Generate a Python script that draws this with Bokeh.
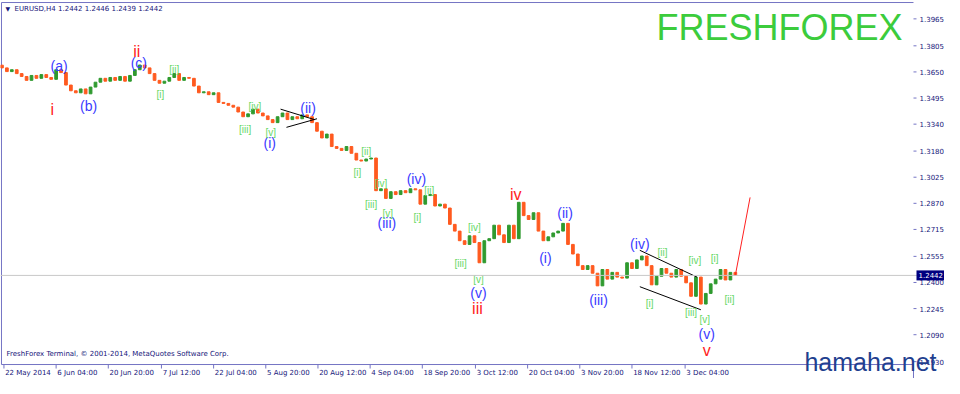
import math
from bokeh.plotting import figure
from bokeh.models import Range1d, Label, ColumnDataSource, Span
from bokeh.embed import file_html
from bokeh.resources import INLINE
from bokeh.core.properties import value

# ---------------- data ----------------
first_open = 1.3690
closes = [
    1.3674, 1.3652, 1.3663, 1.3640, 1.3623, 1.3600, 1.3629, 1.3612, 1.3634, 1.3617,
    1.3606, 1.3663, 1.3646, 1.3572, 1.3538, 1.3526, 1.3549, 1.3520, 1.3560, 1.3589,
    1.3612, 1.3595, 1.3617, 1.3600, 1.3623, 1.3595, 1.3629, 1.3663, 1.3691, 1.3674,
    1.3640, 1.3600, 1.3583, 1.3595, 1.3617, 1.3640, 1.3600, 1.3617, 1.3612, 1.3566,
    1.3526, 1.3532, 1.3515, 1.3526, 1.3469, 1.3463, 1.3452, 1.3441, 1.3412, 1.3384,
    1.3401, 1.3429, 1.3406, 1.3389, 1.3367, 1.3349, 1.3384, 1.3406, 1.3367, 1.3384,
    1.3372, 1.3395, 1.3384, 1.3349, 1.3298, 1.3258, 1.3281, 1.3207, 1.3196, 1.3184,
    1.3207, 1.3167, 1.3127, 1.3121, 1.3133, 1.3139, 1.2945, 1.2956, 1.2899, 1.2939,
    1.2922, 1.2945, 1.2933, 1.2956, 1.2950, 1.2865, 1.2916, 1.2922, 1.2854, 1.2865,
    1.2842, 1.2745, 1.2705, 1.2648, 1.2626, 1.2677, 1.2637, 1.2517, 1.2648, 1.2660,
    1.2740, 1.2683, 1.2637, 1.2740, 1.2660, 1.2876, 1.2797, 1.2774, 1.2814, 1.2705,
    1.2648, 1.2671, 1.2694, 1.2705, 1.2751, 1.2626, 1.2569, 1.2500, 1.2477, 1.2500,
    1.2455, 1.2380, 1.2477, 1.2420, 1.2460, 1.2432, 1.2426, 1.2517, 1.2483, 1.2534,
    1.2557, 1.2500, 1.2386, 1.2437, 1.2483, 1.2455, 1.2432, 1.2477, 1.2437, 1.2398,
    1.2318, 1.2432, 1.2272, 1.2335, 1.2392, 1.2420, 1.2477, 1.2415, 1.2460, 1.2442,
]
last_price = 1.2442
quote_text = "EURUSD,H4  1.2442 1.2446 1.2439 1.2442"

price_ticks = [1.3965, 1.3805, 1.3650, 1.3495, 1.3340, 1.3180, 1.3025,
               1.2870, 1.2715, 1.2555, 1.2400, 1.2245, 1.2090, 1.1930]
date_ticks = [0.4, 11.0, 21.6, 32.4, 43.0, 53.6, 64.2, 74.8, 85.4, 96.2,
              106.8, 117.4, 128.0, 138.8]
date_labels = ["22 May 2014", "6 Jun 04:00", "20 Jun 20:00", "7 Jul 12:00",
               "22 Jul 04:00", "5 Aug 20:00", "20 Aug 12:00", "4 Sep 04:00",
               "18 Sep 20:00", "3 Oct 12:00", "20 Oct 04:00", "3 Nov 20:00",
               "18 Nov 12:00", "3 Dec 04:00"]

# Elliott wave labels (anchor: bar index, price)
primary_text = ["i", "ii", "iii", "iv", "v"]
primary_x = [10.2, 27.4, 96.6, 104.4, 143.2]
primary_y = [1.3424, 1.3771, 1.2244, 1.2922, 1.1999]

inter_text = ["(a)", "(b)", "(c)", "(i)", "(ii)", "(iii)", "(iv)", "(v)",
              "(i)", "(ii)", "(iii)", "(iv)", "(v)"]
inter_x = [11.6, 17.6, 27.8, 54.4, 62.2, 78.2, 84.2, 96.8,
           110.4, 114.4, 121.2, 129.6, 143.2]
inter_y = [1.3686, 1.3446, 1.3703, 1.3230, 1.3435, 1.2751, 1.3013, 1.2335,
           1.2546, 1.2814, 1.2295, 1.2631, 1.2095]

minor_text = ["[i]", "[ii]", "[iii]", "[iv]", "[v]",
              "[i]", "[ii]", "[iii]", "[iv]", "[v]",
              "[i]", "[ii]", "[iii]", "[iv]", "[v]",
              "[i]", "[ii]", "[iii]", "[iv]", "[v]",
              "[i]", "[ii]"]
minor_x = [32.2, 35.0, 49.4, 51.4, 54.6,
           72.2, 74.0, 75.0, 77.0, 78.4,
           84.4, 86.8, 93.2, 96.0, 96.8,
           131.6, 134.2, 140.0, 140.8, 142.8,
           144.8, 147.8]
minor_y = [1.3515, 1.3663, 1.3310, 1.3446, 1.3292,
           1.3053, 1.3178, 1.2865, 1.2990, 1.2808,
           1.2785, 1.2945, 1.2512, 1.2728, 1.2420,
           1.2278, 1.2580, 1.2221, 1.2529, 1.2181,
           1.2540, 1.2301]

# trend lines (triangle and channel), bar index / price
trend_x0 = [56.6, 57.8, 129.6, 129.6]
trend_y0 = [1.3429, 1.3321, 1.2591, 1.2375]
trend_x1 = [63.6, 64.0, 141.2, 142.0]
trend_y1 = [1.3366, 1.3372, 1.2432, 1.2238]

projection_x = [149, 152]
projection_y = [1.2442, 1.2905]

# ---------------- layout / styles ----------------
W, H = 944, 378
chart_left, chart_right = -0.1, 185.2      # bar-index bounds of the price pane
chart_bottom, chart_top = 1.1913, 1.4062   # price bounds of the price pane
x_start, x_end = -0.3, 191.5
y_start, y_end = 1.1830, 1.4074
PX_X = (x_end - x_start) / W
PX_Y = (y_end - y_start) / H

NAVY = "#15157a"
FRAME = "#7474c4"
UP = "#2f9a2f"
DOWN = "#ff5a1f"
MT_FONT = "DejaVu Sans"

opens = [first_open] + closes[:-1]
idx = list(range(len(closes)))
tops = [max(o, c) for o, c in zip(opens, closes)]
bots = [min(o, c) for o, c in zip(opens, closes)]
cols = [UP if c >= o else DOWN for o, c in zip(opens, closes)]
candles = ColumnDataSource(dict(x=idx, top=tops, bottom=bots, color=cols))

p = figure(width=W, height=H, x_range=Range1d(x_start, x_end),
           y_range=Range1d(y_start, y_end), output_backend="svg",
           toolbar_location=None, min_border=0)
p.xaxis.visible = False
p.yaxis.visible = False
p.background_fill_color = "white"
p.border_fill_color = "white"
p.outline_line_color = None
p.xgrid.visible = False
p.ygrid.visible = False

# pane border and right price scale line
p.segment(x0=[chart_left, chart_left, chart_left, chart_right],
          y0=[chart_bottom, chart_top, chart_bottom, chart_bottom],
          x1=[chart_left, chart_right, chart_right, chart_right],
          y1=[chart_top, chart_top, chart_bottom, y_start],
          line_color=FRAME, line_width=1)

# price scale ticks + labels
p.ray(x=[chart_right] * len(price_ticks), y=price_ticks, length=3,
      length_units="screen", angle=0, line_color=FRAME)
p.text(x=[chart_right + 6 * PX_X] * len(price_ticks), y=price_ticks,
       text=["%.4f" % t for t in price_ticks], text_color=NAVY,
       text_font=value(MT_FONT), text_font_size="7px",
       text_align="left", text_baseline="middle")

# time scale ticks + labels (left aligned at tick)
p.ray(x=date_ticks, y=[chart_bottom] * len(date_ticks), length=4,
      length_units="screen", angle=-math.pi / 2, line_color=FRAME)
p.text(x=[t + 1.2 * PX_X for t in date_ticks],
       y=[chart_bottom - 8 * PX_Y] * len(date_ticks), text=date_labels,
       text_color=NAVY, text_font=value(MT_FONT), text_font_size="7px",
       text_align="left", text_baseline="middle")

p.add_layout(Span(location=last_price, dimension="width",
                  line_color="#c8c8c8", line_width=1))

p.vbar(x="x", top="top", bottom="bottom", width=0.55, color="color",
       source=candles)

p.segment(x0=trend_x0, y0=trend_y0, x1=trend_x1, y1=trend_y1,
          line_color="black", line_width=1)
p.line(projection_x, projection_y, line_color="#ff2020", line_width=1)

p.text(x=primary_x, y=primary_y, text=primary_text, text_color="#ff2222",
       text_font=value("Liberation Sans"), text_font_size="16px",
       text_align="center", text_baseline="middle")
p.text(x=inter_x, y=inter_y, text=inter_text, text_color="#3b3bff",
       text_font=value("Liberation Sans"), text_font_size="14px",
       text_align="center", text_baseline="middle")
p.text(x=minor_x, y=minor_y, text=minor_text, text_color="#66d866",
       text_font=value("Liberation Sans"), text_font_size="10px",
       text_align="center", text_baseline="middle")

# current price box on the price scale
p.add_layout(Label(x=chart_right, y=last_price, x_offset=3,
                   text="%.4f" % last_price, text_color="white",
                   text_font=MT_FONT, text_font_size="7px",
                   text_align="left", text_baseline="middle",
                   background_fill_color="#000080", padding=2))

# header / footer texts
p.add_layout(Label(x=5, y=370, x_units="screen", y_units="screen", text="▼",
                   text_color=NAVY, text_font=MT_FONT, text_font_size="6px",
                   text_baseline="middle"))
p.add_layout(Label(x=14, y=370, x_units="screen", y_units="screen",
                   text=quote_text, text_color=NAVY, text_font=MT_FONT,
                   text_font_size="7px", text_baseline="middle"))
p.add_layout(Label(x=656, y=351, x_units="screen", y_units="screen",
                   text="FRESHFOREX", text_color="#3ccc3c",
                   text_font="Liberation Sans", text_font_size="36px",
                   text_baseline="alphabetic"))
p.add_layout(Label(x=6, y=25, x_units="screen", y_units="screen",
                   text="FreshForex Terminal, © 2001-2014, MetaQuotes Software Corp.",
                   text_color=NAVY, text_font=MT_FONT, text_font_size="7px",
                   text_baseline="middle"))
p.add_layout(Label(x=936, y=3, x_units="screen", y_units="screen",
                   text="hamaha.net", text_color="#1f3f8f",
                   text_font="Liberation Sans", text_font_size="25px",
                   text_align="right", text_baseline="bottom"))

open("out.html", "w").write(file_html(p, INLINE))
